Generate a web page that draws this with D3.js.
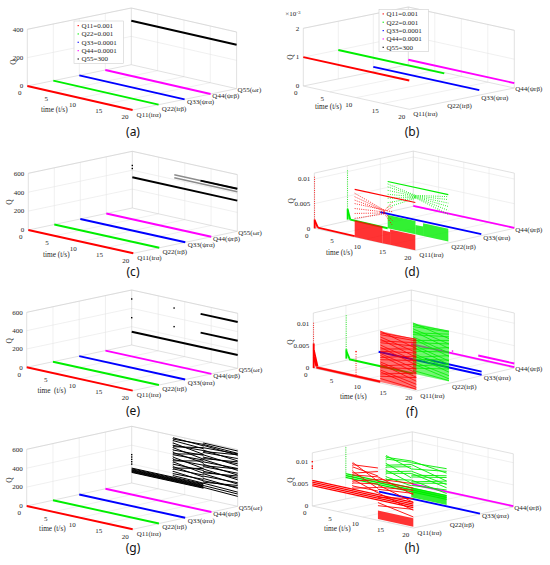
<!DOCTYPE html>
<html>
<head>
<meta charset="utf-8">
<script src="https://cdn.jsdelivr.net/npm/d3@7"></script>
<style>
  body { margin: 0; background: #fff; }
  text { font-family: "Liberation Serif", "Times New Roman", serif; }
</style>
</head>
<body>
<div id="fig"></div>
<script>
// size of the page
var W = 550, H = 565;

// axes
var timeTicks = [0, 5, 10, 15, 20];
var chan5 = ["Q11(irα)", "Q22(irβ)", "Q33(ψrα)", "Q44(ψrβ)", "Q55(ωr)"];
var chan4 = chan5.slice(0, 4);
var chanColors = ["#ff0000", "#00ee00", "#0000ff", "#ff00ff", "#000000"];
var legendLabels = ["Q11=0.001", "Q22=0.001", "Q33=0.0001", "Q44=0.0001", "Q55=300"];
var zTicksA = [0, 200, 400];
var zTicksC = [0, 200, 400, 600];
var zTicksB = [0, 0.001, 0.002];
var zTicksD = [0, 0.005, 0.01];

// marks: [channel, t0, t1, q0, q1]   bands: [channel, t0, t1, qLow, qHigh]   dots: [channel, t, q]
var aLines = [[0, 0, 20, 0.001, 0.001], [1, 0, 20, 0.001, 0.001], [2, 0, 20, 0.0001, 0.0001], [3, 0, 20, 0.0001, 0.0001], [4, 0, 20, 310, 310]];

var bLines = [[0, 0, 20, 0.001, 0.001], [1, 0, 20, 0.001, 0.001], [2, 0, 20, 0.00017, 0.00017], [3, 0, 20, 0.00017, 0.00017]];

var cLines = [[0, 0, 20, 0, 0], [1, 0, 20, 0, 0], [2, 0, 20, 0, 0], [3, 0, 20, 0, 0], [4, 0, 20, 325, 325], [4, 13, 20, 450, 450]];
var cGray = [[4, 8, 20, 450, 450], [4, 8, 20, 418, 418]];
var cDots = [[4, 0, 450], [4, 0, 418]];

var eLines = [[0, 0, 20, 0, 0], [1, 0, 20, 0, 0], [2, 0, 20, 0, 0], [3, 0, 20, 0, 0], [4, 0, 20, 145, 145], [4, 13, 20, 505, 505], [4, 13, 20, 300, 300]];
var eDots = [[4, 0, 502], [4, 0, 298], [4, 8, 505], [4, 8, 302]];

var gLines = [[0, 0, 20, 0, 0], [1, 0, 20, 0, 0], [2, 0, 20, 0, 0], [3, 0, 20, 0, 0]];
var gThin = [
  [4, 0, 13.5, 112, 112], [4, 0, 13.5, 118, 118], [4, 0, 13.5, 124, 124], [4, 0, 13.5, 130, 130],
  [4, 0, 13.5, 136, 136], [4, 0, 13.5, 142, 142], [4, 0, 13.5, 150, 150], [4, 0, 13.5, 158, 158],
  [4, 7.8, 13.5, 575, 560], [4, 7.8, 13.5, 560, 575], [4, 7.8, 13.5, 545, 530], [4, 7.8, 13.5, 520, 470],
  [4, 7.8, 13.5, 495, 510], [4, 7.8, 13.5, 480, 540], [4, 7.8, 13.5, 470, 420], [4, 7.8, 13.5, 445, 460],
  [4, 7.8, 13.5, 420, 380], [4, 7.8, 13.5, 405, 470], [4, 7.8, 13.5, 395, 410], [4, 7.8, 13.5, 370, 320],
  [4, 7.8, 13.5, 345, 355], [4, 7.8, 13.5, 330, 400], [4, 7.8, 13.5, 320, 270], [4, 7.8, 13.5, 295, 300],
  [4, 7.8, 13.5, 270, 230], [4, 7.8, 13.5, 255, 320], [4, 7.8, 13.5, 245, 250], [4, 7.8, 13.5, 220, 190],
  [4, 7.8, 13.5, 195, 205], [4, 7.8, 13.5, 175, 165],
  [4, 13.5, 20, 590, 585], [4, 13.5, 20, 575, 560], [4, 13.5, 20, 565, 540], [4, 13.5, 20, 540, 555],
  [4, 13.5, 20, 515, 480], [4, 13.5, 20, 500, 545], [4, 13.5, 20, 490, 505], [4, 13.5, 20, 465, 430],
  [4, 13.5, 20, 440, 450], [4, 13.5, 20, 425, 470], [4, 13.5, 20, 415, 380], [4, 13.5, 20, 390, 400],
  [4, 13.5, 20, 365, 330], [4, 13.5, 20, 350, 395], [4, 13.5, 20, 340, 350], [4, 13.5, 20, 315, 280],
  [4, 13.5, 20, 290, 300], [4, 13.5, 20, 275, 320], [4, 13.5, 20, 265, 235], [4, 13.5, 20, 240, 250],
  [4, 13.5, 20, 215, 190], [4, 13.5, 20, 190, 200], [4, 13.5, 20, 175, 220], [4, 13.5, 20, 165, 150],
  [4, 13.5, 20, 140, 130], [4, 13.5, 20, 120, 105]
];
var gDotted = [[4, 7.8, 7.8, 165, 580], [4, 13.5, 13.5, 110, 590]];
var gDots = [[4, 0, 200], [4, 0, 225], [4, 0, 250], [4, 0, 275], [4, 0, 300]];

var dLines = [[0, 0.08, 0.08, 0, 0.0018], [0, 0.1, 0.7, 0.0016, 0.0003], [0, 0.7, 8, 0.0003, 0.0002],
  [1, 0.08, 0.08, 0.0003, 0.0025], [1, 0.1, 0.6, 0.0022, 0.0004], [1, 0.6, 8, 0.0004, 0.0003],
  [2, 0, 20, 0.0003, 0.0003], [3, 0, 20, 0.0001, 0.0001]];
var dMid = [[0, 8, 20, 0.0097, 0.0097], [1, 8, 20, 0.0098, 0.0098]];
var dBands = [[0, 8, 13.5, 0, 0.0034], [0, 13.5, 15, 0, 0.0026], [0, 15, 20, 0, 0.0031],
  [1, 8, 13.5, 0.0003, 0.0030], [1, 13.5, 15, 0.0003, 0.0022], [1, 15, 20, 0.0003, 0.0029]];
var dDotted = [
  [0, 0.05, 0.05, 0.0018, 0.0105], [1, 0.05, 0.05, 0.0025, 0.0103],
  [0, 8, 13.8, 0.0089, 0.0068], [0, 8, 13.8, 0.0082, 0.0067], [0, 8, 13.8, 0.0075, 0.0066], [0, 8, 15.5, 0.0068, 0.0068],
  [0, 8, 13.8, 0.0058, 0.0064], [0, 8, 13.8, 0.0048, 0.0062], [0, 8, 13.8, 0.0038, 0.0060],
  [0, 13.8, 15.5, 0.0066, 0.0088], [0, 13.8, 15.5, 0.0064, 0.0078], [0, 13.8, 15.5, 0.0064, 0.0050], [0, 13.8, 15.5, 0.0062, 0.0040],
  [1, 8, 13.5, 0.0093, 0.0082], [1, 8, 13.5, 0.0087, 0.0081], [1, 8, 13.5, 0.0080, 0.0080], [1, 8, 13.5, 0.0072, 0.0079],
  [1, 8, 13.5, 0.0064, 0.0078], [1, 8, 13.5, 0.0055, 0.0077], [1, 8, 13.5, 0.0046, 0.0076],
  [1, 13.5, 20, 0.0082, 0.0094], [1, 13.5, 20, 0.0081, 0.0088], [1, 13.5, 20, 0.0080, 0.0081],
  [1, 13.5, 20, 0.0079, 0.0074], [1, 13.5, 20, 0.0078, 0.0066], [1, 13.5, 20, 0.0077, 0.0058]
];

var fLines = [[0, 0.08, 0.08, 0, 0.0055], [0, 0.1, 0.8, 0.0040, 0.0006], [0, 0.1, 0.6, 0.0025, 0.0005], [0, 0.6, 13, 0.0003, 0.0003],
  [1, 0.08, 0.08, 0.0004, 0.0025], [1, 0.1, 0.7, 0.0020, 0.0005], [1, 0.6, 13, 0.0004, 0.0004],
  [2, 0, 20, 0.0002, 0.0002], [2, 9, 20, 0.0009, 0.0009], [3, 0, 20, 0.0002, 0.0002], [3, 13, 20, 0.0010, 0.0010]];
var fBands = [[0, 0.6, 13, 0, 0.0006], [0, 13, 20, 0.0002, 0.0116], [1, 13, 20, 0.0004, 0.0117]];
var fThin = [
  [0, 13, 20, 0.0116, 0.0095], [0, 13, 20, 0.0112, 0.0116], [0, 13, 20, 0.0108, 0.0112], [0, 13, 20, 0.0103, 0.0086],
  [0, 13, 20, 0.0098, 0.0075], [0, 13, 20, 0.0094, 0.0108], [0, 13, 20, 0.0090, 0.0100], [0, 13, 20, 0.0085, 0.0066],
  [0, 13, 20, 0.0080, 0.0058], [0, 13, 20, 0.0076, 0.0094], [0, 13, 20, 0.0071, 0.0085], [0, 13, 20, 0.0066, 0.0049],
  [0, 13, 20, 0.0062, 0.0040], [0, 13, 20, 0.0057, 0.0078], [0, 13, 20, 0.0052, 0.0068], [0, 13, 20, 0.0047, 0.0031],
  [0, 13, 20, 0.0043, 0.0022], [0, 13, 20, 0.0038, 0.0060], [0, 13, 20, 0.0034, 0.0050], [0, 13, 20, 0.0029, 0.0015],
  [0, 13, 20, 0.0025, 0.0008], [0, 13, 20, 0.0020, 0.0040], [0, 13, 20, 0.0015, 0.0030], [0, 13, 20, 0.0010, 0.0004],
  [1, 13, 20, 0.0117, 0.0100], [1, 13, 20, 0.0113, 0.0117], [1, 13, 20, 0.0109, 0.0115], [1, 13, 20, 0.0104, 0.0088],
  [1, 13, 20, 0.0099, 0.0078], [1, 13, 20, 0.0095, 0.0110], [1, 13, 20, 0.0091, 0.0104], [1, 13, 20, 0.0086, 0.0068],
  [1, 13, 20, 0.0082, 0.0060], [1, 13, 20, 0.0078, 0.0096], [1, 13, 20, 0.0073, 0.0088], [1, 13, 20, 0.0068, 0.0050],
  [1, 13, 20, 0.0063, 0.0042], [1, 13, 20, 0.0058, 0.0080], [1, 13, 20, 0.0054, 0.0070], [1, 13, 20, 0.0049, 0.0033],
  [1, 13, 20, 0.0045, 0.0025], [1, 13, 20, 0.0040, 0.0062], [1, 13, 20, 0.0036, 0.0052], [1, 13, 20, 0.0031, 0.0017],
  [1, 13, 20, 0.0026, 0.0010], [1, 13, 20, 0.0021, 0.0042], [1, 13, 20, 0.0016, 0.0032], [1, 13, 20, 0.0011, 0.0006]
];
var fDotted = [[0, 0.05, 0.05, 0.0055, 0.0102], [0, 8.3, 8.3, 0.0006, 0.0055], [1, 0.05, 0.05, 0.0025, 0.0102]];
var fDots = [[3, 8, 0.0007], [0, 8.3, 0.0058]];

var hLines = [[2, 0, 20, 0.0001, 0.0001], [3, 0, 20, 0.0002, 0.0002]];
var hMid = [[0, 0, 20, 0.0058, 0.0058], [0, 0, 20, 0.0054, 0.0054], [0, 0, 20, 0.0050, 0.0050], [0, 0, 20, 0.0046, 0.0046],
  [1, 0, 20, 0.0057, 0.0057], [1, 0, 20, 0.0053, 0.0053], [1, 0, 20, 0.0049, 0.0049]];
var hBands = [[0, 13, 20, 0.0003, 0.0022], [1, 13, 20, 0.0036, 0.0058]];
var hThin = [
  [0, 8, 13, 0.0118, 0.0088], [0, 8, 13, 0.0113, 0.0118], [0, 8, 13, 0.0108, 0.0100], [0, 8, 13, 0.0098, 0.0072],
  [0, 8, 13, 0.0094, 0.0110], [0, 8, 13, 0.0090, 0.0098], [0, 8, 13, 0.0080, 0.0062], [0, 8, 13, 0.0076, 0.0092],
  [0, 8, 13, 0.0072, 0.0082], [0, 8, 13, 0.0065, 0.0066], [0, 8, 13, 0.0060, 0.0074],
  [0, 13, 20, 0.0098, 0.0075], [0, 13, 20, 0.0093, 0.0100], [0, 13, 20, 0.0088, 0.0090], [0, 13, 20, 0.0080, 0.0058],
  [0, 13, 20, 0.0075, 0.0085], [0, 13, 20, 0.0070, 0.0078], [0, 13, 20, 0.0062, 0.0040], [0, 13, 20, 0.0052, 0.0066],
  [0, 13, 20, 0.0040, 0.0025], [0, 13, 20, 0.0033, 0.0042],
  [1, 8, 13, 0.0118, 0.0100], [1, 8, 13, 0.0114, 0.0118], [1, 8, 13, 0.0110, 0.0115], [1, 8, 13, 0.0100, 0.0080],
  [1, 8, 13, 0.0096, 0.0110], [1, 8, 13, 0.0092, 0.0105], [1, 8, 13, 0.0085, 0.0068], [1, 8, 13, 0.0081, 0.0095],
  [1, 8, 13, 0.0078, 0.0090], [1, 8, 13, 0.0070, 0.0062], [1, 8, 13, 0.0064, 0.0075],
  [1, 13, 20, 0.0118, 0.0108], [1, 13, 20, 0.0114, 0.0118], [1, 13, 20, 0.0110, 0.0090], [1, 13, 20, 0.0100, 0.0112],
  [1, 13, 20, 0.0095, 0.0082], [1, 13, 20, 0.0090, 0.0075], [1, 13, 20, 0.0086, 0.0102], [1, 13, 20, 0.0082, 0.0098],
  [1, 13, 20, 0.0075, 0.0062], [1, 13, 20, 0.0071, 0.0090], [1, 13, 20, 0.0068, 0.0085], [1, 13, 20, 0.0063, 0.0070]
];
var hDotted = [[0, 8, 8, 0.0050, 0.0118], [1, 0.05, 0.05, 0.0060, 0.0118], [1, 8, 8, 0.0060, 0.0118]];
var hDots = [[0, 0, 0.0100], [0, 0, 0.0090], [0, 0, 0.0085]];

// panel layout
var panels = [
  {lab: "(a)", lx: 133, ly: 132, ox: 27.3, oy: 86, tv: [105.3, 24], cv: [104, -21.3], nch: 5, zmax: 400, zh: 56.7, zt: zTicksA,
   timeOff: [27, 24], qOff: [-14, -24], legend: [74, 21],
   layers: [{kind: "line", w: 1.9, data: aLines}]},
  {lab: "(b)", lx: 412, ly: 132, ox: 303.3, oy: 86, tv: [106, 23.3], cv: [105, -21.3], nch: 4, zmax: 0.002, zh: 57.7, zt: zTicksB,
   zfmt: function(d) { return String(Math.round(d * 1000)); }, exp: true,
   timeOff: [25, 21], qOff: [-13, -29], legend: [379, 9.3],
   layers: [{kind: "line", w: 1.9, data: bLines}]},
  {lab: "(c)", lx: 133, ly: 272, ox: 28.3, oy: 230, tv: [105, 23.3], cv: [104, -22], nch: 5, zmax: 600, zh: 56.7, zt: zTicksC,
   timeOff: [28, 25], qOff: [-19, -28],
   layers: [{kind: "line", w: 1.5, color: "#8c8c8c", data: cGray}, {kind: "line", w: 1.9, data: cLines}, {kind: "dot", data: cDots}]},
  {lab: "(d)", lx: 412, ly: 272, ox: 314.3, oy: 228.3, tv: [101, 22], cv: [99, -22], nch: 4, zmax: 0.0112, zh: 55.2, zt: zTicksD,
   timeOff: [25, 24], qOff: [-23, -27.6],
   layers: [{kind: "band", op: 0.8, data: dBands}, {kind: "dotted", data: dDotted}, {kind: "line", w: 1.2, data: dMid}, {kind: "line", w: 1.9, data: dLines}]},
  {lab: "(e)", lx: 133, ly: 411, ox: 26.7, oy: 367.3, tv: [106, 23.3], cv: [105, -22.3], nch: 5, zmax: 600, zh: 55, zt: zTicksC,
   timeOff: [25, 23], qOff: [-17.4, -26.6], wide: true,
   layers: [{kind: "line", w: 1.9, data: eLines}, {kind: "dot", data: eDots}]},
  {lab: "(f)", lx: 412, ly: 412, ox: 313.3, oy: 368, tv: [103, 23], cv: [98, -23], nch: 4, zmax: 0.0123, zh: 55, zt: zTicksD,
   timeOff: [40, 29], qOff: [-23, -26],
   layers: [{kind: "band", op: 0.55, data: fBands}, {kind: "line", w: 0.8, data: fThin}, {kind: "dotted", data: fDotted}, {kind: "line", w: 1.9, data: fLines}, {kind: "dot", data: fDots}]},
  {lab: "(g)", lx: 133, ly: 548, ox: 26.7, oy: 506, tv: [106, 23.3], cv: [105, -23], nch: 5, zmax: 600, zh: 56.7, zt: zTicksC,
   timeOff: [25.7, 22.3], qOff: [-17.4, -26],
   layers: [{kind: "line", w: 1.0, data: gThin}, {kind: "dotted", data: gDotted}, {kind: "line", w: 1.9, data: gLines}, {kind: "dot", data: gDots}]},
  {lab: "(h)", lx: 412, ly: 548, ox: 312.3, oy: 506, tv: [101, 22], cv: [100, -21], nch: 4, zmax: 0.012, zh: 53.2, zt: zTicksD,
   timeOff: [25, 23], qOff: [-22, -26],
   layers: [{kind: "band", op: 0.8, data: hBands}, {kind: "line", w: 0.9, data: hThin}, {kind: "line", w: 1.3, data: hMid}, {kind: "dotted", data: hDotted}, {kind: "line", w: 1.9, data: hLines}, {kind: "dot", data: hDots}]}
];

var svg = d3.select("#fig").append("svg")
    .attr("width", W)
    .attr("height", H);

panels.forEach(drawPanel);

function drawPanel(p) {
  var n = p.nch;
  var tS = d3.scaleLinear().domain([0, 20]).range([0, 1]);
  var cS = d3.scalePoint().domain(d3.range(n)).range([0, 1]);
  var zS = d3.scaleLinear().domain([0, p.zmax]).range([0, p.zh]).clamp(true);
  var P = function(t, c, q) {
    var a = tS(t), b = cS(c);
    return [p.ox + a * p.tv[0] + b * p.cv[0], p.oy + a * p.tv[1] + b * p.cv[1] - zS(q)];
  };
  var g = svg.append("g");
  var line = d3.line();

  //grid on the two back walls and the floor
  var grid = g.append("g").attr("fill", "none").attr("stroke", "#e6e6e6").attr("stroke-width", 0.6);
  var last = n - 1;
  p.zt.forEach(function(z) {
    if (z === 0) return;
    grid.append("path").attr("d", line([P(0, 0, z), P(0, last, z), P(20, last, z)]));
  });
  d3.range(1, last).forEach(function(c) {
    grid.append("path").attr("d", line([P(0, c, 0), P(0, c, p.zmax)]));
  });
  timeTicks.slice(1, -1).forEach(function(t) {
    grid.append("path").attr("d", line([P(t, 0, 0), P(t, last, 0), P(t, last, p.zmax)]));
  });

  //box edges
  var edge = g.append("g").attr("fill", "none").attr("stroke", "#cdcdcd").attr("stroke-width", 0.6);
  edge.append("path").attr("d", line([P(0, 0, 0), P(0, 0, p.zmax), P(0, last, p.zmax), P(20, last, p.zmax), P(20, last, 0), P(20, 0, 0), P(0, 0, 0)]));
  edge.append("path").attr("d", line([P(0, 0, 0), P(0, last, 0), P(20, last, 0)]));
  edge.append("path").attr("d", line([P(0, last, 0), P(0, last, p.zmax)]));

  //marks, back channel first
  for (var c = last; c >= 0; c--) {
    p.layers.forEach(function(L) {
      var rows = L.data.filter(function(d) { return d[0] === c; });
      var col = L.color || chanColors[c];
      if (L.kind === "band") {
        g.selectAll(null).data(rows).enter().append("path")
          .attr("d", function(d) { return line([P(d[1], c, d[3]), P(d[2], c, d[3]), P(d[2], c, d[4]), P(d[1], c, d[4])]) + "Z"; })
          .attr("fill", col)
          .attr("fill-opacity", L.op);
      } else if (L.kind === "dot") {
        g.selectAll(null).data(rows).enter().append("rect")
          .attr("x", function(d) { return P(d[1], c, d[2])[0] - 0.7; })
          .attr("y", function(d) { return P(d[1], c, d[2])[1] - 0.7; })
          .attr("width", 1.4)
          .attr("height", 1.4)
          .attr("fill", col);
      } else {
        g.selectAll(null).data(rows).enter().append("path")
          .attr("d", function(d) { return line([P(d[1], c, d[3]), P(d[2], c, d[4])]); })
          .attr("fill", "none")
          .attr("stroke", col)
          .attr("stroke-width", L.kind === "dotted" ? 0.9 : L.w)
          .attr("stroke-dasharray", L.kind === "dotted" ? "0.9 1.3" : null);
      }
    });
  }

  //tick labels
  var fmt = p.zfmt || function(d) { return String(d); };
  var txt = g.append("g")
      .attr("font-family", "'Liberation Serif', serif")
      .attr("font-size", "7px")
      .attr("fill", "#262626");
  txt.selectAll(null).data(p.zt).enter().append("text")
    .attr("x", function(d) { return P(0, 0, d)[0] - 4; })
    .attr("y", function(d) { return P(0, 0, d)[1]; })
    .attr("dy", "0.33em")
    .attr("text-anchor", "end")
    .text(fmt);
  txt.selectAll(null).data(timeTicks).enter().append("text")
    .attr("x", function(d) { return P(d, 0, 0)[0] - 7.5; })
    .attr("y", function(d) { return P(d, 0, 0)[1] + 7; })
    .attr("dy", "0.33em")
    .attr("text-anchor", "middle")
    .text(function(d) { return d; });
  var names = n === 5 ? chan5 : chan4;
  txt.selectAll(null).data(names).enter().append("text")
    .attr("x", function(d, i) { return P(20, i, 0)[0] + 4 - 3 * i / last; })
    .attr("y", function(d, i) { return P(20, i, 0)[1] + 4.5 - 3.5 * i / last; })
    .attr("dy", "0.33em")
    .text(function(d) { return d; });

  //axis titles
  txt.append("text")
    .attr("x", p.ox + p.timeOff[0])
    .attr("y", p.oy + p.timeOff[1])
    .attr("dy", "0.33em")
    .attr("text-anchor", "middle")
    .attr("font-size", "7.3px")
    .style("white-space", "pre")
    .text(p.wide ? "time  (t/s)" : "time (t/s)");
  txt.append("text")
    .attr("transform", "translate(" + (p.ox + p.qOff[0]) + "," + (p.oy + p.qOff[1]) + ") rotate(-90)")
    .attr("text-anchor", "middle")
    .attr("dy", "0.33em")
    .attr("font-size", "7.5px")
    .text("Q");
  if (p.exp) {
    var e = txt.append("text")
      .attr("x", p.ox - 18)
      .attr("y", p.oy - p.zh - 12);
    e.append("tspan").text("×10");
    e.append("tspan").attr("dy", -2.5).attr("font-size", "5px").text("-3");
  }

  //legend
  if (p.legend) {
    var lg = g.append("g").attr("transform", "translate(" + p.legend[0] + "," + p.legend[1] + ")");
    lg.append("rect")
      .attr("width", 49.5)
      .attr("height", 42.4)
      .attr("fill", "#fff")
      .attr("stroke", "#cfcfcf")
      .attr("stroke-width", 0.6);
    var ent = lg.selectAll(null).data(legendLabels).enter().append("g")
      .attr("transform", function(d, i) { return "translate(0," + (4.6 + i * 8.35) + ")"; });
    ent.append("rect")
      .attr("x", 3.6).attr("y", -0.6)
      .attr("width", 1.2).attr("height", 1.2)
      .attr("fill", function(d, i) { return chanColors[i]; });
    ent.append("text")
      .attr("x", 7.5)
      .attr("dy", "0.33em")
      .attr("font-family", "'Liberation Serif', serif")
      .attr("font-size", "7px")
      .attr("fill", "#262626")
      .text(function(d) { return d; });
  }

  //panel letter
  g.append("text")
    .attr("x", p.lx)
    .attr("y", p.ly)
    .attr("dy", "0.35em")
    .attr("text-anchor", "middle")
    .style("font-family", "'Noto Sans', sans-serif")
    .attr("font-size", "12px")
    .attr("fill", "#111")
    .text(p.lab);
}
</script>
</body>
</html>
